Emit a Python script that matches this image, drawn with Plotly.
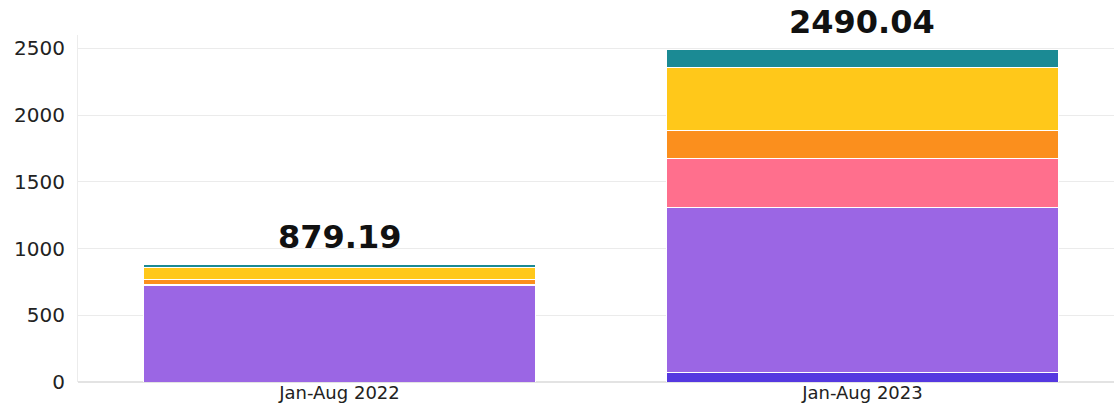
import plotly.graph_objects as go

categories = ["Jan-Aug 2022", "Jan-Aug 2023"]
series_names = ["Series 1", "Series 2", "Series 3", "Series 4", "Series 5", "Series 6"]
series_values = [
    [0, 70],        # dark blue
    [725, 1238],    # purple
    [8, 367],       # pink
    [32, 212],      # orange
    [90, 468],      # yellow
    [24.19, 135.04] # teal
]
series_colors = ["#5538e0", "#9b66e4", "#ff6f8d", "#fb8f1d", "#ffc81a", "#1b8a94"]
totals = [879.19, 2490.04]
total_labels = ["879.19", "2490.04"]
y_ticks = [0, 500, 1000, 1500, 2000, 2500]

fig = go.Figure()
for name, vals, col in zip(series_names, series_values, series_colors):
    fig.add_trace(go.Bar(
        x=categories, y=vals, name=name,
        marker=dict(color=col, line=dict(color="white", width=1)),
        width=0.75,
    ))

for cat, tot, lab in zip(categories, totals, total_labels):
    fig.add_annotation(
        x=cat, y=tot, text=lab, showarrow=False,
        yanchor="bottom", yshift=7,
        font=dict(family="DejaVu Sans", size=32, color="#111111", weight="bold"),
    )

fig.update_layout(
    barmode="stack",
    width=1114, height=406,
    margin=dict(l=78, r=0, t=35, b=24, autoexpand=False),
    paper_bgcolor="white", plot_bgcolor="white",
    showlegend=False,
    font=dict(family="DejaVu Sans", color="#222222"),
)
fig.update_xaxes(
    range=[-0.5, 1.481], showgrid=False, showline=False, zeroline=False,
    tickfont=dict(size=18, family="DejaVu Sans", color="#222222"),
    ticklabelstandoff=-2, automargin=False,
)
fig.update_yaxes(
    range=[0, 2600], tickvals=y_ticks, showgrid=True, gridcolor="#ebebeb", gridwidth=1,
    zeroline=True, zerolinecolor="#e3e3e3", showline=True, linecolor="#ececec",
    tickfont=dict(size=20, family="DejaVu Sans", color="#222222"),
    ticklabelstandoff=8, automargin=False,
)

fig.write_html("out.html")
